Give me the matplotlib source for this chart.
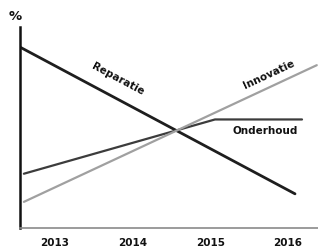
import matplotlib
matplotlib.use("Agg")
import matplotlib.pyplot as plt

# years (fractional where the lines start/stop between ticks) and % values
reparatie_x = [2012.55, 2016.09]
reparatie_y = [90, 17]
onderhoud_x = [2012.60, 2015.06, 2016.18]
onderhoud_y = [27, 54, 54]
innovatie_x = [2012.60, 2016.37]
innovatie_y = [13, 81]
tick_years = [2013, 2014, 2015, 2016]

fig = plt.figure(figsize=(3.18, 2.49), dpi=100)
ax = fig.add_axes([20 / 318, 21 / 249, 298 / 318, 201 / 249])

ax.plot(reparatie_x, reparatie_y, color="#1e1e1e", lw=2.0, solid_capstyle="round")
ax.plot(onderhoud_x, onderhoud_y, color="#3c3c3c", lw=1.6, solid_capstyle="round")
ax.plot(innovatie_x, innovatie_y, color="#a0a0a0", lw=1.6, solid_capstyle="round")

ax.set_xlim(2012.55, 2016.386)
ax.set_ylim(0, 100)

for s in ("top", "right"):
    ax.spines[s].set_visible(False)
ax.spines["left"].set_color("#111111")
ax.spines["left"].set_linewidth(1.8)
ax.spines["bottom"].set_color("#8a8a8a")
ax.spines["bottom"].set_linewidth(1.2)

ax.set_yticks([])
ax.set_xticks(tick_years)
ax.set_xticklabels([str(y) for y in tick_years], fontsize=7.5, fontweight="bold",
                   color="#111111")
ax.tick_params(axis="x", length=0, pad=7)

lbl = dict(fontsize=7.5, fontweight="bold", color="#111111",
           ha="center", va="center", rotation_mode="anchor")
ax.text(2013.81, 74.0, "Reparatie", rotation=-28, **lbl)
ax.text(2015.76, 76.5, "Innovatie", rotation=25, **lbl)
ax.text(2015.70, 48.3, "Onderhoud", rotation=0, **lbl)

fig.text(15 / 318, 1 - 17 / 249, "%", fontsize=9.5, fontweight="bold",
         ha="center", va="center", color="#111111")

fig.savefig("out.png", dpi=100)
